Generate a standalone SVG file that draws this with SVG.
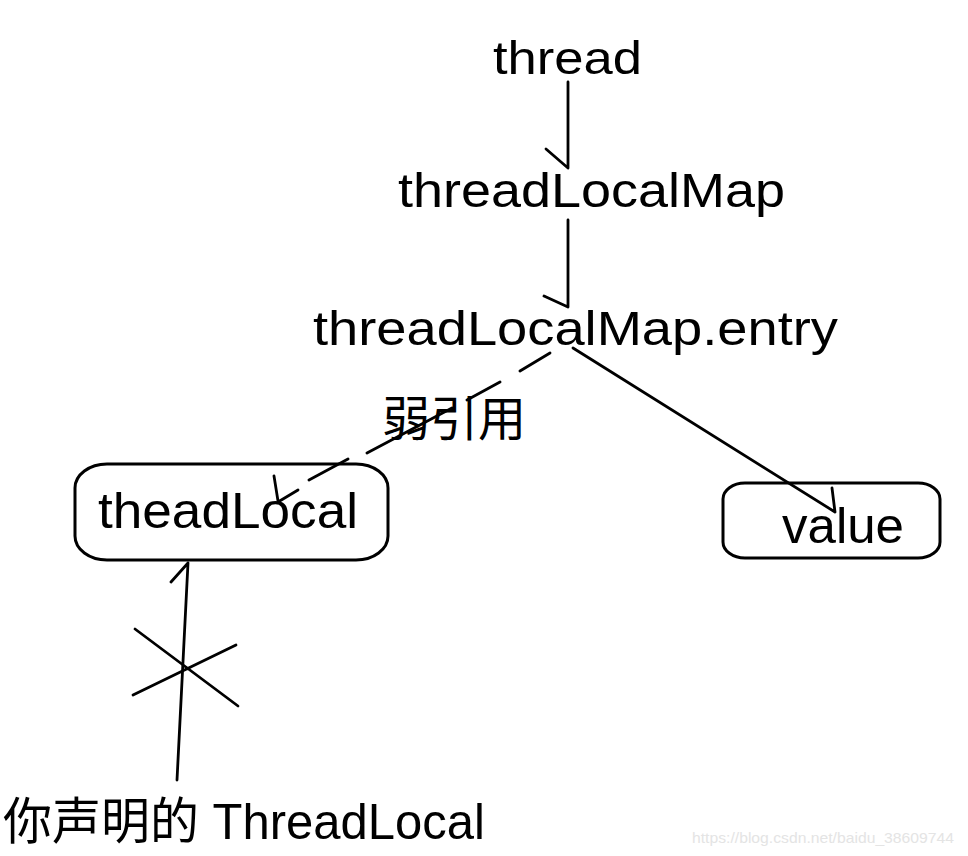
<svg xmlns="http://www.w3.org/2000/svg" width="968" height="856" viewBox="0 0 968 856">
  <style>
    .lbl { font-family: "Liberation Sans", Arial, sans-serif; fill: #000; }
    .cjk { font-family: "Liberation Sans", "Noto Sans CJK SC", sans-serif; fill: #000; }
    .box { fill: none; stroke: #000; stroke-width: 3; }
    .ln { fill: none; stroke: #000; stroke-width: 2.8; stroke-linecap: round; }
  </style>
  <rect x="0" y="0" width="968" height="856" fill="#fff"/>

  <g id="node-thread">
    <text class="lbl" x="493" y="74" font-size="46" textLength="149" lengthAdjust="spacingAndGlyphs">thread</text>
  </g>
  <g id="node-threadLocalMap">
    <text class="lbl" x="398" y="207" font-size="48" textLength="387" lengthAdjust="spacingAndGlyphs">threadLocalMap</text>
  </g>
  <g id="node-entry">
    <text class="lbl" x="313" y="345" font-size="48" textLength="525" lengthAdjust="spacingAndGlyphs">threadLocalMap.entry</text>
  </g>
  <g id="node-theadLocal">
    <rect class="box" x="75" y="464" width="313" height="96" rx="32" ry="24"/>
    <text class="lbl" x="98" y="528" font-size="50" textLength="260" lengthAdjust="spacingAndGlyphs">theadLocal</text>
  </g>
  <g id="node-value">
    <rect class="box" x="723" y="483" width="217" height="75" rx="22" ry="16"/>
    <text class="lbl" x="782" y="543" font-size="50" textLength="122" lengthAdjust="spacingAndGlyphs">value</text>
  </g>
  <g id="node-declared">
    <text class="cjk" x="3" y="839" font-size="50" textLength="482" lengthAdjust="spacingAndGlyphs">你声明的 ThreadLocal</text>
  </g>

  <g id="connectors">
    <path class="ln" d="M568 82 L568 168 M546 149 L568 168"/>
    <path class="ln" d="M568 220 L568 307 M544 296 L568 307"/>
    <path class="ln" d="M550 353 L520 371 M500 382 L467 400 M452 408 L367 453 M348 459 L309 480 M298 490 L278 502 M274 476 L278 501"/>
    <path class="ln" d="M573 348 L835 512 M832 488 L835 512"/>
    <path class="ln" d="M177 780 L188 563 M171 582 L188 563"/>
    <path class="ln" d="M135 629 L238 706 M133 695 L236 645"/>
    <text class="cjk" x="382" y="436" font-size="48">弱引用</text>
  </g>

  <text x="692" y="843" font-family="Liberation Sans, sans-serif" font-size="15" fill="#e4e4e4" textLength="262" lengthAdjust="spacingAndGlyphs">https://blog.csdn.net/baidu_38609744</text>
</svg>
